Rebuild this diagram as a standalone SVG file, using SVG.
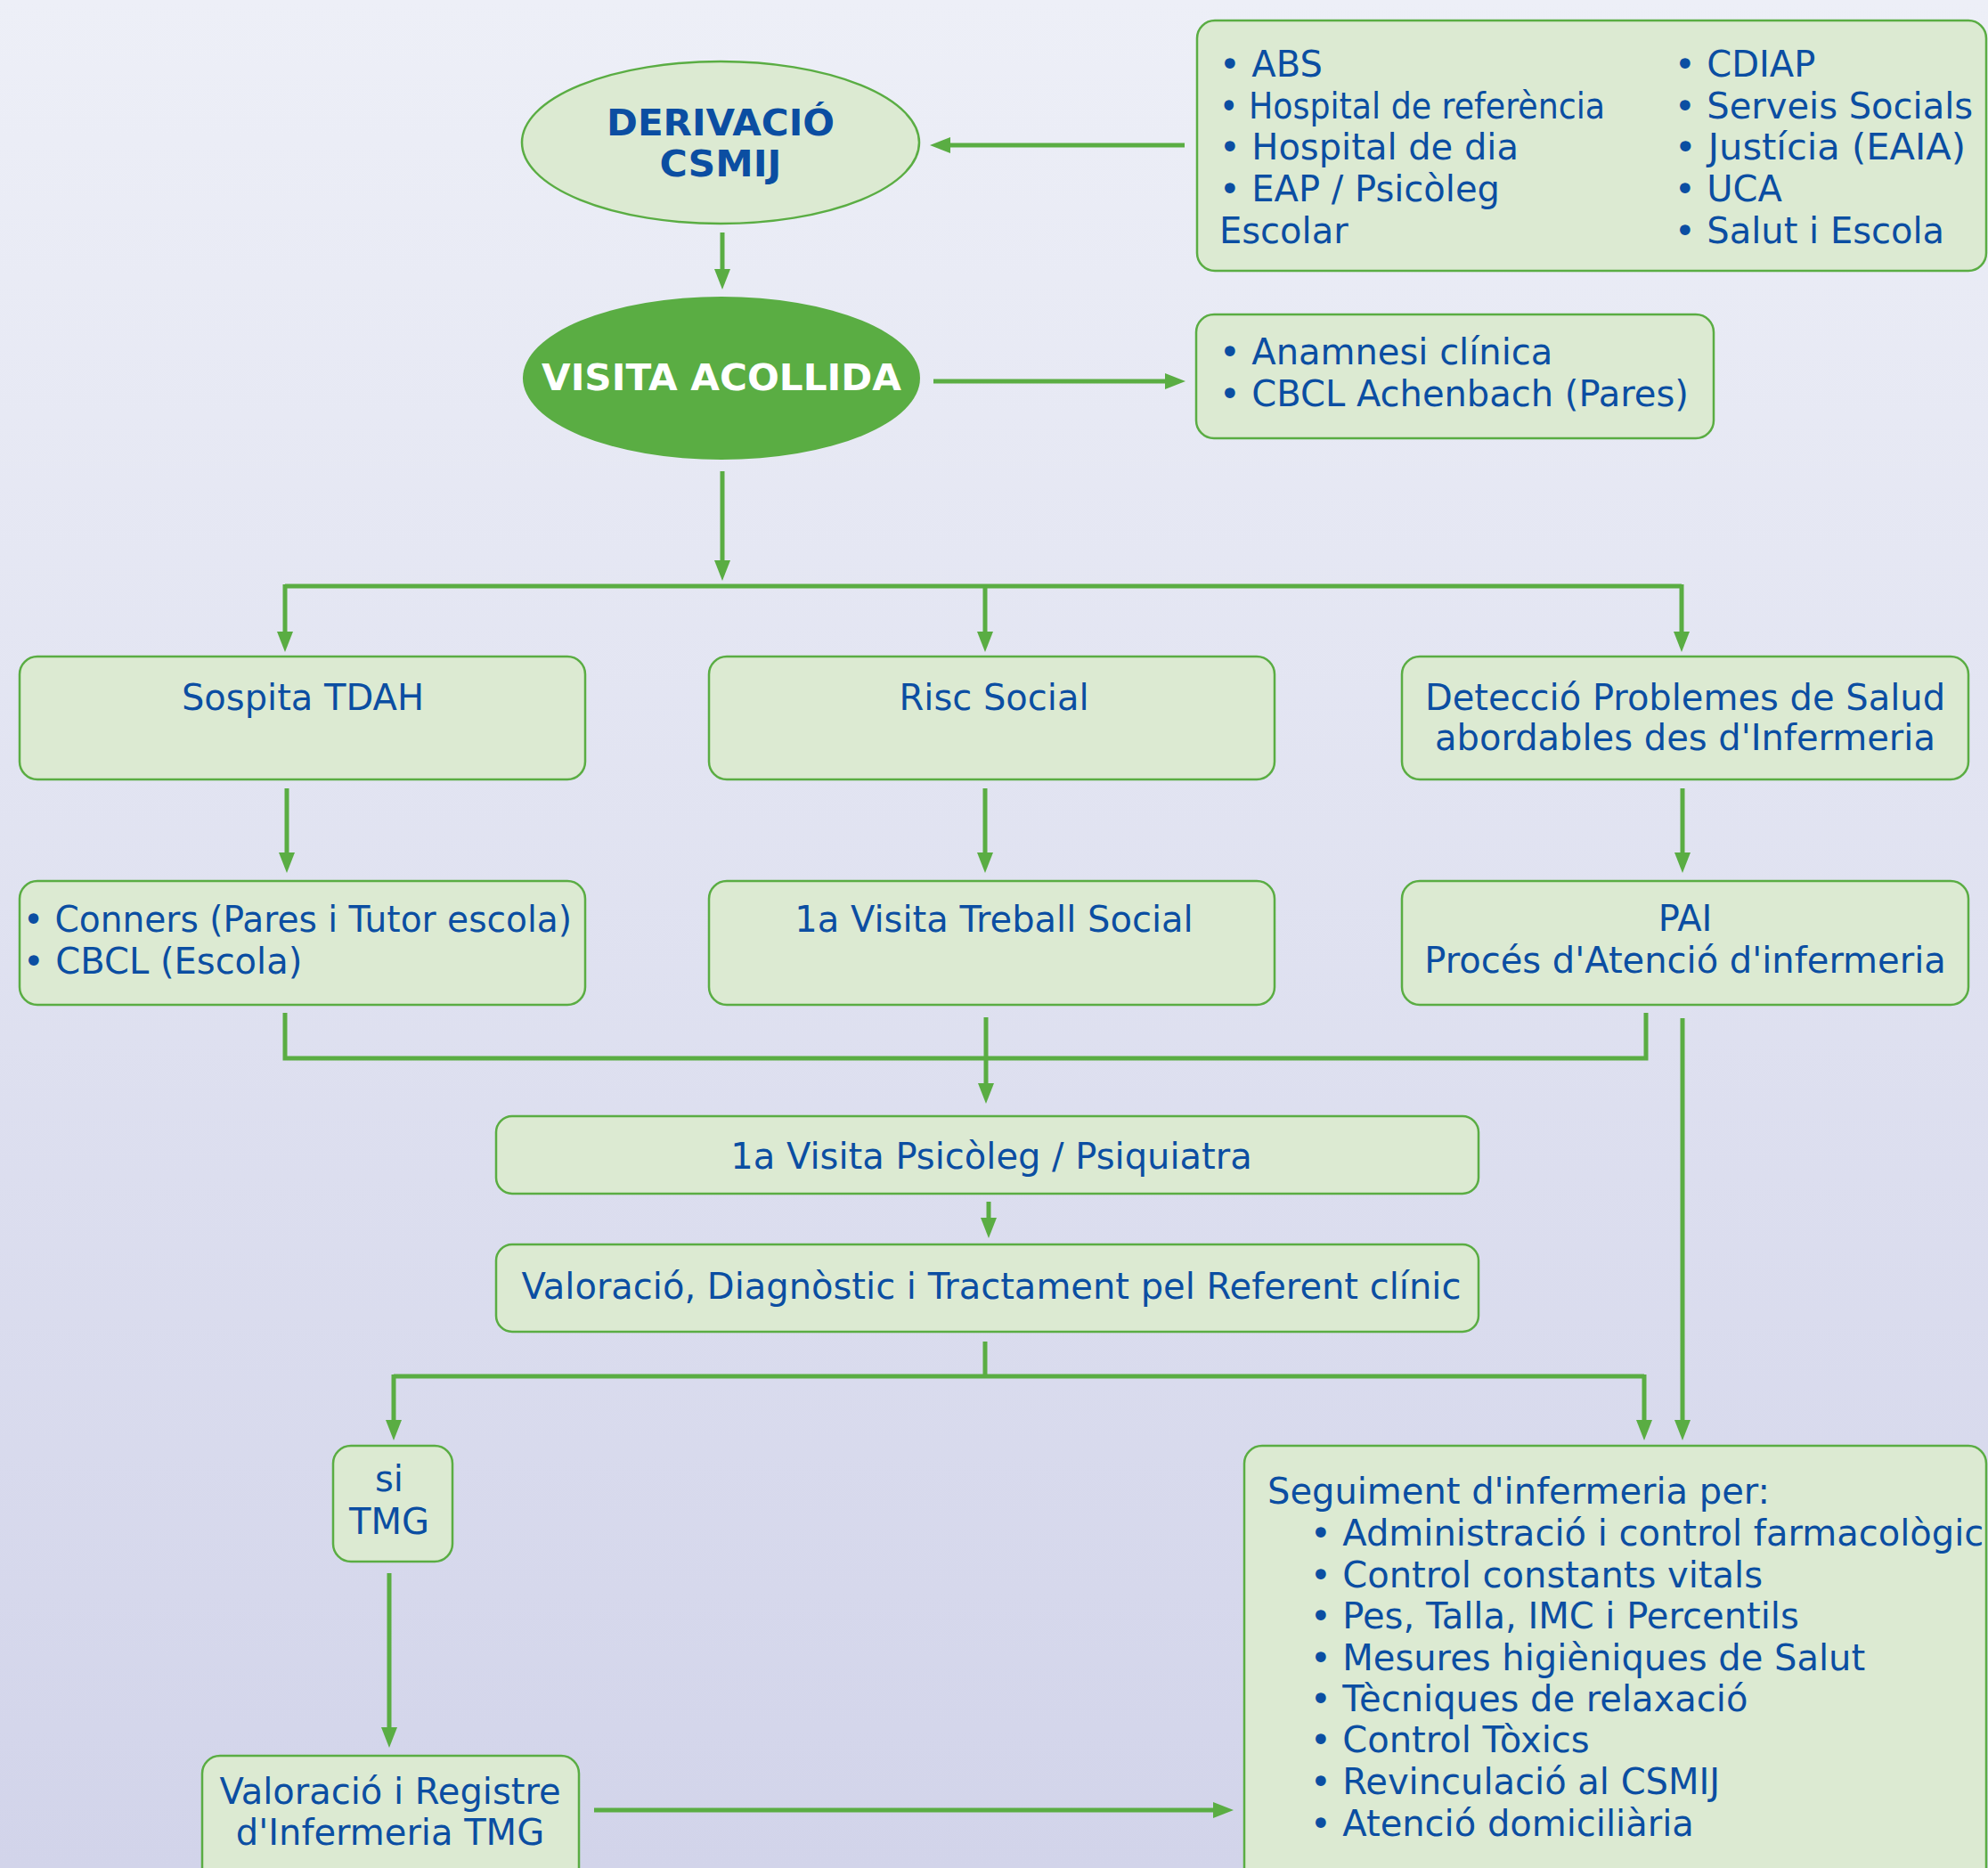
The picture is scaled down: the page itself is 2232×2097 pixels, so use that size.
<svg xmlns="http://www.w3.org/2000/svg" width="2232" height="2097" viewBox="0 0 2232 2097">
<defs>
<linearGradient id="bg" x1="0" y1="0" x2="0" y2="1">
<stop offset="0" stop-color="#EDEFF7"/>
<stop offset="1" stop-color="#D2D4EA"/>
</linearGradient>
<marker id="ah" viewBox="0 0 23 18" refX="15" refY="9" markerWidth="23" markerHeight="18" markerUnits="userSpaceOnUse" orient="auto">
<path d="M0,0 L23,9 L0,18 Z" fill="#5AAD43"/>
</marker>
<style>
.box{fill:#DCEAD2;stroke:#5AAD43;stroke-width:2.5}
.t{font-family:"DejaVu Sans",Verdana,sans-serif;font-size:40px;fill:#0B4EA2}
.c{text-anchor:middle}
.b{font-weight:bold}
.w{fill:#FFFFFF}
.ln{fill:none;stroke:#5AAD43;stroke-width:5}
.ar{fill:none;stroke:#5AAD43;stroke-width:5;marker-end:url(#ah)}
</style>
</defs>
<rect x="0" y="0" width="2232" height="2097" fill="url(#bg)"/>

<g id="connectors">
<path class="ar" d="M1330 163 H1052"/>
<path class="ar" d="M811 261 V317"/>
<path class="ar" d="M1048 428 H1323"/>
<path class="ar" d="M811 529 V644"/>
<path class="ln" d="M320 658 H1888"/>
<path class="ar" d="M320 656 V724"/>
<path class="ar" d="M1106 656 V724"/>
<path class="ar" d="M1888 656 V724"/>
<path class="ar" d="M322 885 V972"/>
<path class="ar" d="M1106 885 V972"/>
<path class="ar" d="M1889 885 V972"/>
<path class="ln" d="M320 1137 V1188 H1848 V1137"/>
<path class="ar" d="M1107 1142 V1231"/>
<path class="ar" d="M1110 1349 V1382"/>
<path class="ln" d="M1106 1506 V1545"/>
<path class="ln" d="M442 1545 H1846"/>
<path class="ar" d="M442 1543 V1609"/>
<path class="ar" d="M1846 1543 V1609"/>
<path class="ar" d="M1889 1143 V1609"/>
<path class="ar" d="M437 1766 V1954"/>
<path class="ar" d="M667 2032 H1377"/>
</g>

<g id="derivacio">
<ellipse cx="809" cy="160" rx="223" ry="91" fill="#DCEAD2" stroke="#5AAD43" stroke-width="2.5"/>
<text class="t c b" x="809" y="152" textLength="256" lengthAdjust="spacingAndGlyphs">DERIVACIÓ</text>
<text class="t c b" x="809" y="198" textLength="137" lengthAdjust="spacingAndGlyphs">CSMIJ</text>
</g>

<g id="fonts">
<rect class="box" x="1344" y="23" width="886" height="281" rx="20"/>
<text class="t" x="1369" y="86">• ABS</text>
<text class="t" x="1369" y="133" textLength="433" lengthAdjust="spacingAndGlyphs">• Hospital de referència</text>
<text class="t" x="1369" y="179">• Hospital de dia</text>
<text class="t" x="1369" y="226">• EAP / Psicòleg</text>
<text class="t" x="1369" y="273">Escolar</text>
<text class="t" x="1880" y="86">• CDIAP</text>
<text class="t" x="1880" y="133">• Serveis Socials</text>
<text class="t" x="1880" y="179" textLength="327" lengthAdjust="spacingAndGlyphs">• Justícia (EAIA)</text>
<text class="t" x="1880" y="226">• UCA</text>
<text class="t" x="1880" y="273">• Salut i Escola</text>
</g>

<g id="visita">
<ellipse cx="810" cy="424.5" rx="223" ry="91.5" fill="#5AAD43"/>
<text class="t c b w" x="810" y="438" textLength="404" lengthAdjust="spacingAndGlyphs">VISITA ACOLLIDA</text>
</g>

<g id="anamnesi">
<rect class="box" x="1343" y="353" width="581" height="139" rx="20"/>
<text class="t" x="1369" y="409">• Anamnesi clínica</text>
<text class="t" x="1369" y="456">• CBCL Achenbach (Pares)</text>
</g>

<g id="sospita">
<rect class="box" x="22" y="737" width="635" height="138" rx="20"/>
<text class="t c" x="340" y="797">Sospita TDAH</text>
</g>

<g id="risc">
<rect class="box" x="796" y="737" width="635" height="138" rx="20"/>
<text class="t c" x="1116" y="797">Risc Social</text>
</g>

<g id="deteccio">
<rect class="box" x="1574" y="737" width="636" height="138" rx="20"/>
<text class="t c" x="1892" y="797">Detecció Problemes de Salud</text>
<text class="t c" x="1892" y="842">abordables des d'Infermeria</text>
</g>

<g id="conners">
<rect class="box" x="22" y="989" width="635" height="139" rx="20"/>
<text class="t" x="26" y="1046" textLength="616" lengthAdjust="spacingAndGlyphs">• Conners (Pares i Tutor escola)</text>
<text class="t" x="26" y="1093">• CBCL (Escola)</text>
</g>

<g id="treball">
<rect class="box" x="796" y="989" width="635" height="139" rx="20"/>
<text class="t c" x="1116" y="1046">1a Visita Treball Social</text>
</g>

<g id="pai">
<rect class="box" x="1574" y="989" width="636" height="139" rx="20"/>
<text class="t c" x="1892" y="1045">PAI</text>
<text class="t c" x="1892" y="1092">Procés d'Atenció d'infermeria</text>
</g>

<g id="psicoleg">
<rect class="box" x="557" y="1253" width="1103" height="87" rx="18"/>
<text class="t c" x="1113" y="1312">1a Visita Psicòleg / Psiquiatra</text>
</g>

<g id="valoracio">
<rect class="box" x="557" y="1397" width="1103" height="98" rx="18"/>
<text class="t c" x="1113" y="1458">Valoració, Diagnòstic i Tractament pel Referent clínic</text>
</g>

<g id="sitmg">
<rect class="box" x="374" y="1623" width="134" height="130" rx="20"/>
<text class="t c" x="437" y="1674">si</text>
<text class="t c" x="437" y="1722">TMG</text>
</g>

<g id="registre">
<rect class="box" x="227" y="1971" width="423" height="150" rx="20"/>
<text class="t c" x="438" y="2025">Valoració i Registre</text>
<text class="t c" x="438" y="2071">d'Infermeria TMG</text>
</g>

<g id="seguiment">
<rect class="box" x="1397" y="1623" width="833" height="500" rx="20"/>
<text class="t" x="1423" y="1688">Seguiment d'infermeria per:</text>
<text class="t" x="1471" y="1735">• Administració i control farmacològic</text>
<text class="t" x="1471" y="1782">• Control constants vitals</text>
<text class="t" x="1471" y="1828">• Pes, Talla, IMC i Percentils</text>
<text class="t" x="1471" y="1875">• Mesures higièniques de Salut</text>
<text class="t" x="1471" y="1921">• Tècniques de relaxació</text>
<text class="t" x="1471" y="1967">• Control Tòxics</text>
<text class="t" x="1471" y="2014">• Revinculació al CSMIJ</text>
<text class="t" x="1471" y="2061">• Atenció domiciliària</text>
</g>
</svg>
